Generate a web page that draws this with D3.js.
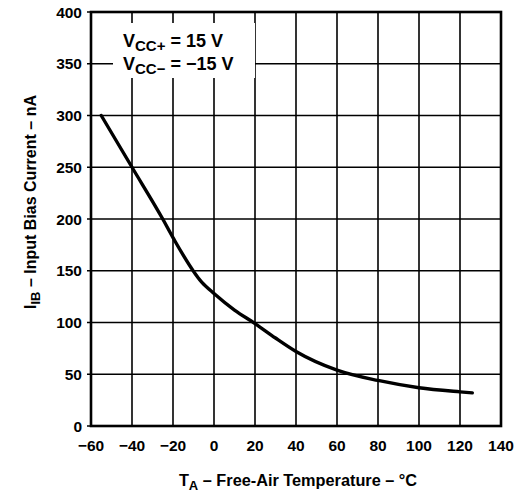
<!DOCTYPE html>
<html><head><meta charset="utf-8">
<script src="https://cdn.jsdelivr.net/npm/d3@7"></script>
<style>body{margin:0;background:#fff}svg{display:block}text{font-family:"Liberation Sans",Arial,sans-serif;font-weight:bold;fill:#000}</style>
</head><body>
<script>
const temperature = [-55, -40, -25, -20, -6, 0, 10, 20, 30, 40, 60, 80, 100, 120, 126];
const biasCurrent = [300, 250, 200, 182, 139, 128, 112, 99, 85, 72, 54, 44, 37, 33, 32];
const xTicks = [-60, -40, -20, 0, 20, 40, 60, 80, 100, 120, 140];
const yTicks = [0, 50, 100, 150, 200, 250, 300, 350, 400];

const W = 520, H = 495;
const m = {l: 91, r: 501, t: 12, b: 426};
const svg = d3.select("body").append("svg").attr("width", W).attr("height", H);
const x = d3.scaleLinear().domain([-60, 140]).range([m.l, m.r]);
const y = d3.scaleLinear().domain([0, 400]).range([m.b, m.t]);

// grid
svg.append("g").selectAll("line").data(xTicks).join("line")
  .attr("x1", d => x(d)).attr("x2", d => x(d)).attr("y1", m.t).attr("y2", m.b)
  .attr("stroke", "#000").attr("stroke-width", 1.6);
svg.append("g").selectAll("line").data(yTicks).join("line")
  .attr("x1", m.l - 4).attr("x2", m.r).attr("y1", d => y(d)).attr("y2", d => y(d))
  .attr("stroke", "#000").attr("stroke-width", 1.6);

// annotation box
svg.append("rect").attr("x", 113).attr("y", 23).attr("width", 142).attr("height", 55).attr("fill", "#fff");
const ann = svg.append("g");
function vcc(yPos, sub, val) {
  const t = ann.append("text").attr("x", 123).attr("y", yPos).attr("font-size", 18);
  t.append("tspan").text("V");
  t.append("tspan").attr("font-size", 15).attr("dy", 4).text("CC" + sub);
  t.append("tspan").attr("dy", -4).text(" = " + val);
}
vcc(47, "+", "15 V");
vcc(70, "\u2212", "\u221215 V");

// frame
svg.append("rect").attr("x", m.l).attr("y", m.t).attr("width", m.r - m.l).attr("height", m.b - m.t)
  .attr("fill", "none").attr("stroke", "#000").attr("stroke-width", 2.6);

// curve
const pts = temperature.map((t, i) => [t, biasCurrent[i]]);
svg.append("path").datum(pts)
  .attr("d", d3.line().x(d => x(d[0])).y(d => y(d[1])).curve(d3.curveMonotoneX))
  .attr("fill", "none").attr("stroke", "#000").attr("stroke-width", 3.4).attr("stroke-linecap", "round");

// tick labels
const fmt = d => d < 0 ? "\u2212" + Math.abs(d) : String(d);
svg.append("g").selectAll("text").data(xTicks).join("text")
  .attr("x", d => x(d)).attr("y", 451).attr("text-anchor", "middle").attr("font-size", 15.5)
  .text(fmt);
svg.append("g").selectAll("text").data(yTicks).join("text")
  .attr("x", 82).attr("y", d => y(d) + 5.5).attr("text-anchor", "end").attr("font-size", 15.5)
  .text(fmt);

// x title
const xt = svg.append("text").attr("x", 298).attr("y", 486).attr("text-anchor", "middle").attr("font-size", 16.3);
xt.append("tspan").text("T");
xt.append("tspan").attr("font-size", 13).attr("dy", 4).text("A");
xt.append("tspan").attr("dy", -4).text(" \u2013 Free-Air Temperature \u2013 \u00b0C");

// y title
const yt = svg.append("text").attr("transform", "translate(36,202) rotate(-90)").attr("text-anchor", "middle").attr("font-size", 16);
yt.append("tspan").text("I");
yt.append("tspan").attr("font-size", 13).attr("dy", 4).text("IB");
yt.append("tspan").attr("dy", -4).text(" \u2013 Input Bias Current \u2013 nA");
</script>
</body></html>
